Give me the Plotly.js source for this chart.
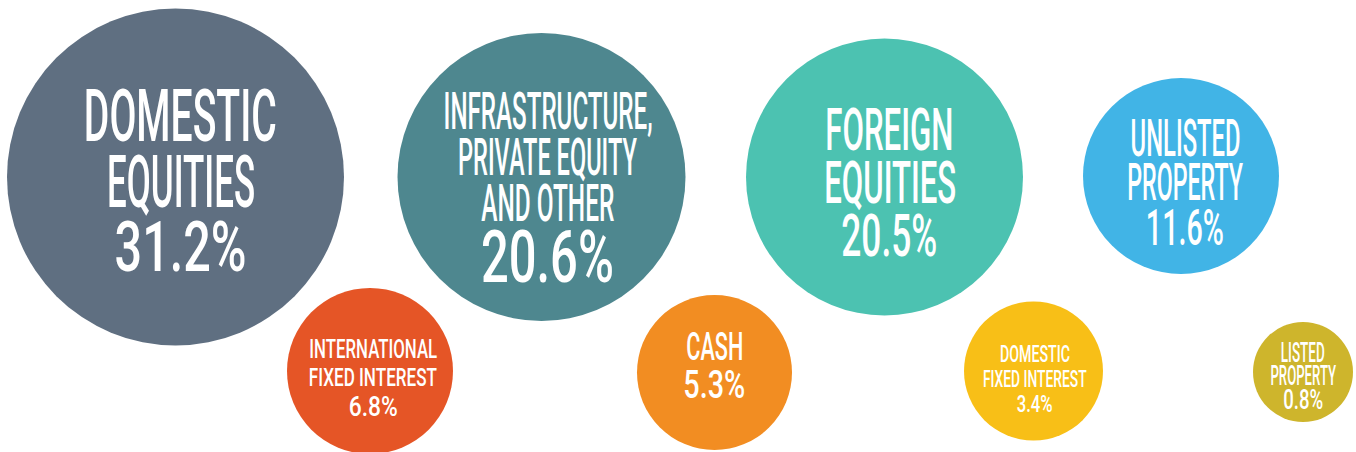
<!DOCTYPE html>
<html>
<head>
<meta charset="utf-8">
<script src="https://cdn.plot.ly/plotly-3.0.1.min.js"></script>
<style>
  html, body { margin: 0; padding: 0; background: #ffffff; }
  #chart { width: 1356px; height: 452px; }
</style>
</head>
<body>
<div id="chart"></div>
<script>
// ---------------- DATA ----------------
const categories = [
  "Domestic equities",
  "Infrastructure, private equity and other",
  "Foreign equities",
  "Unlisted property",
  "International fixed interest",
  "Cash",
  "Domestic fixed interest",
  "Listed property"
];
const values = [31.2, 20.6, 20.5, 11.6, 6.8, 5.3, 3.4, 0.8];
const labelLines = [
  ["DOMESTIC", "EQUITIES"],
  ["INFRASTRUCTURE,", "PRIVATE EQUITY", "AND OTHER"],
  ["FOREIGN", "EQUITIES"],
  ["UNLISTED", "PROPERTY"],
  ["INTERNATIONAL", "FIXED INTEREST"],
  ["CASH"],
  ["DOMESTIC", "FIXED INTEREST"],
  ["LISTED", "PROPERTY"]
];

// ---------------- STYLE / LAYOUT ----------------
const bubbleX = [175.5, 541.5, 884.5, 1181, 370, 714.5, 1033.5, 1303];
const bubbleY = [177, 177, 177, 176, 371, 372.5, 371, 372];
const bubbleDiameter = [337, 288, 277, 196, 166, 155, 139, 100];
const bubbleColors = ["#5f6f81", "#4e878f", "#4cc2b1", "#41b4e6", "#e55526", "#f28d22", "#f8bf17", "#ceb52c"];

const textShiftX = [5, 6, 5, 4, 3, 0, 1, 0];
const textTopOffset = [-87, -84, -69, -56, -31, -40.5, -26, -30];
const labelCap = [52, 37, 42, 36.5, 18, 28, 17, 20];
const pctCap = [50, 52, 42, 36, 20, 28, 17, 20];
const lineGap = [14, 9, 11, 8, 10, 10, 8, 3.5];
const lineWidths = [
  [193, 148, 132],
  [209, 179, 133, 133],
  [128, 132, 96],
  [110, 116, 78],
  [128, 128, 49],
  [57, 62],
  [70, 104, 36],
  [44, 66, 40]
];
const CAP_RATIO = 0.711;
const FONT = "Roboto, Liberation Sans, sans-serif";

const percentLabels = values.map(v => v.toFixed(1) + "%");

// ---------------- BUILD ----------------
const trace = {
  type: "scatter",
  mode: "markers",
  x: bubbleX,
  y: bubbleY,
  text: categories,
  marker: {
    size: bubbleDiameter,
    sizemode: "diameter",
    color: bubbleColors,
    opacity: 1,
    line: { width: 0 }
  },
  hoverinfo: "skip",
  showlegend: false
};

const annotations = [];
const targetWidths = [];
categories.forEach((cat, i) => {
  const lines = labelLines[i].concat([percentLabels[i]]);
  let top = textTopOffset[i];
  lines.forEach((ln, k) => {
    const isPct = k === lines.length - 1;
    const cap = isPct ? pctCap[i] : labelCap[i];
    const centerOff = top + cap / 2;
    annotations.push({
      x: bubbleX[i],
      y: bubbleY[i],
      xref: "x",
      yref: "y",
      text: ln,
      showarrow: false,
      xanchor: "center",
      yanchor: "middle",
      xshift: textShiftX[i],
      yshift: -centerOff,
      font: { family: FONT, size: cap / CAP_RATIO, color: "#ffffff", weight: 500 },
      borderpad: 0
    });
    targetWidths.push(lineWidths[i][k]);
    top += cap + lineGap[i];
  });
});

const layout = {
  width: 1356,
  height: 452,
  margin: { l: 0, r: 0, t: 0, b: 0, pad: 0 },
  paper_bgcolor: "#ffffff",
  plot_bgcolor: "#ffffff",
  xaxis: { range: [0, 1356], visible: false, fixedrange: true },
  yaxis: { range: [452, 0], visible: false, fixedrange: true },
  annotations: annotations,
  hovermode: false
};

Plotly.newPlot("chart", [trace], layout, { displayModeBar: false, staticPlot: true }).then(() => {
  // condense the lettering horizontally to mimic the narrow display face
  const groups = document.querySelectorAll("#chart .annotation");
  groups.forEach(g => {
    const idx = +g.getAttribute("data-index");
    const t = g.querySelector("text.annotation-text");
    if (!t || isNaN(idx)) return;
    const bb = t.getBBox();
    if (!bb.width) return;
    const s = targetWidths[idx] / bb.width;
    const cx = bb.x + bb.width / 2;
    t.setAttribute("transform", "matrix(" + s + ",0,0,1," + (cx * (1 - s)) + ",0)");
  });
});
</script>
</body>
</html>
